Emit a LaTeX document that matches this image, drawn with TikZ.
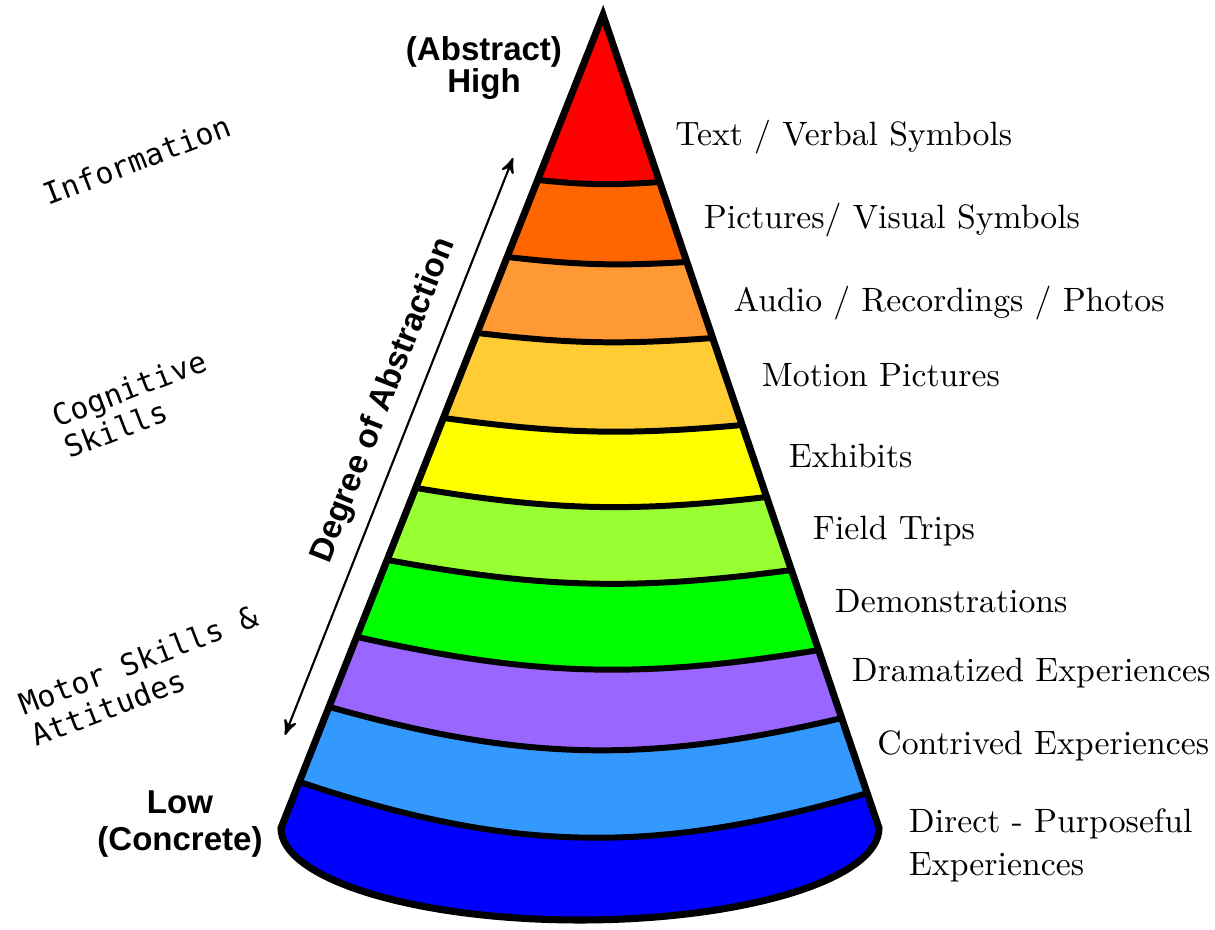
\documentclass[tikz,border=0pt]{standalone}
\usepackage{fontspec}
\newfontfamily\levelfont{Liberation Sans}[BoldFont={Liberation Sans Bold}]
\newfontfamily\skillfont{DejaVu Sans Mono}
\usetikzlibrary{arrows}

\definecolor{bandA}{HTML}{FF0000}
\definecolor{bandB}{HTML}{FF6600}
\definecolor{bandC}{HTML}{FF9933}
\definecolor{bandD}{HTML}{FFCC33}
\definecolor{bandE}{HTML}{FFFF00}
\definecolor{bandF}{HTML}{99FF33}
\definecolor{bandG}{HTML}{00FF00}
\definecolor{bandH}{HTML}{9966FF}
\definecolor{bandI}{HTML}{3399FF}
\definecolor{bandJ}{HTML}{0000FF}

\tikzset{
  medium/.style={font=\fontsize{9.6}{12}\selectfont, inner sep=0pt},
  extreme/.style={font=\levelfont\bfseries\fontsize{9.4}{9.2}\selectfont, inner sep=0pt},
  skill/.style={font=\skillfont\fontsize{8.5}{9.5}\selectfont, inner sep=0pt}
}

\begin{document}
\begin{tikzpicture}[line width=1.7pt]
\useasboundingbox (0,0) rectangle (12.15,9.29);

\coordinate (apex) at (6.03,9.14);
\coordinate (base) at (2.81,1.01);

% the cone, filled from the bottom band up
\fill[bandJ] (apex) -- (base) arc[start angle=180, end angle=360, x radius=2.99cm, y radius=0.92cm] -- cycle;
\foreach \xl/\yl/\xr/\yr/\bend/\col in {3.000/1.47/8.675/1.36/17.5/bandI,
    3.297/2.22/8.420/2.11/14.5/bandH, 3.573/2.92/8.189/2.79/11/bandG,
    3.877/3.69/7.917/3.59/9/bandF, 4.162/4.41/7.669/4.32/8/bandE,
    4.438/5.11/7.424/5.04/6.5/bandD, 4.774/5.96/7.128/5.91/5.5/bandC,
    5.074/6.72/6.870/6.67/5/bandB, 5.378/7.49/6.598/7.47/5/bandA}
  \fill[\col] (apex) -- (\xl,\yl) to[bend right=\bend] (\xr,\yr) -- cycle;

% band borders
\foreach \xl/\yl/\xr/\yr/\bend in {3.000/1.47/8.675/1.36/17.5,
    3.297/2.22/8.420/2.11/14.5, 3.573/2.92/8.189/2.79/11,
    3.877/3.69/7.917/3.59/9, 4.162/4.41/7.669/4.32/8,
    4.438/5.11/7.424/5.04/6.5, 4.774/5.96/7.128/5.91/5.5,
    5.074/6.72/6.870/6.67/5, 5.378/7.49/6.598/7.47/5}
  \draw (\xl,\yl) to[bend right=\bend] (\xr,\yr);
\draw[line width=2pt, line join=miter] (apex) -- (base) arc[start angle=180, end angle=360, x radius=2.99cm, y radius=0.92cm] -- cycle;

% right hand labels
\node[medium, anchor=base west] (verbal) at (6.725,7.83) {Text / Verbal Symbols};
\node[medium, anchor=base west] (visual) at (7.01,7.00) {Pictures/ Visual Symbols};
\node[medium, anchor=base west] (audio) at (7.31,6.17) {Audio / Recordings / Photos};
\node[medium, anchor=base west] (motion) at (7.59,5.42) {Motion Pictures};
\node[medium, anchor=base west] (exhibits) at (7.86,4.61) {Exhibits};
\node[medium, anchor=base west] (field) at (8.10,3.89) {Field Trips};
\node[medium, anchor=base west] (demo) at (8.32,3.17) {Demonstrations};
\node[medium, anchor=base west] (drama) at (8.49,2.48) {Dramatized Experiences};
\node[medium, anchor=base west] (contrived) at (8.745,1.74) {Contrived Experiences};
\node[medium, anchor=base west, align=left] (direct) at (9.06,0.54) {Direct - Purposeful\\Experiences};

% high / low ends
\node[extreme, anchor=base, align=center] (high) at (4.84,8.36) {(Abstract)\\High};
\node[extreme, anchor=base, align=center, font=\levelfont\bfseries\fontsize{9.4}{10.5}\selectfont] (low) at (1.80,0.79) {Low\\(Concrete)};

% degree of abstraction
\coordinate (up) at (5.13,7.71);
\coordinate (down) at (2.85,1.94);
\draw[<->,>=stealth',line width=0.6pt] (down) -- (up);
\node[extreme, anchor=base west, rotate=68.7] (degree) at (3.28,3.62) {Degree of Abstraction};

% skills
\node[skill, anchor=base west, rotate=21] (info) at (0.46,7.22) {Information};
\node[skill, anchor=base west, rotate=21, align=left] (cognitive) at (0.67,4.69) {Cognitive\\Skills};
\node[skill, anchor=base west, rotate=21, align=left] (motor) at (0.34,1.81) {Motor Skills \&\\Attitudes};
\end{tikzpicture}
\end{document}
